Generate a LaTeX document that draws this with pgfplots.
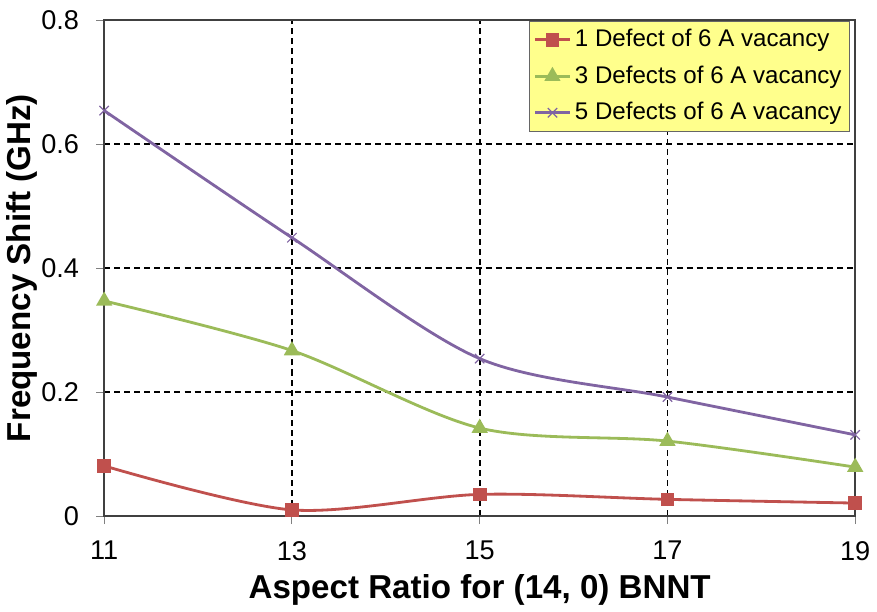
\documentclass[border=0pt]{standalone}
\usepackage{pgfplots}
\pgfplotsset{compat=1.18}
\usepackage{fontspec}
\setmainfont{Liberation Sans}
\definecolor{cred}{HTML}{C0504D}
\definecolor{cgreen}{HTML}{9BBB59}
\definecolor{cpurple}{HTML}{8064A2}
\definecolor{legyellow}{HTML}{FFFF8C}
\begin{document}
\begin{tikzpicture}
\begin{axis}[
  scale only axis,
  width=374pt, height=247pt,
  xmin=11, xmax=19, ymin=0, ymax=0.8,
  xtick={11,13,15,17,19},
  ytick={0,0.2,0.4,0.6,0.8},
  yticklabels={0,0.2,0.4,0.6,0.8},
  grid=major,
  major grid style={black, line width=0.9pt, dash pattern=on 3pt off 2pt},
  axis line style={draw=black!75, line width=0.9pt},
  tick style={draw=black!50, line width=0.5pt},
  tick align=outside,
  major tick length=4pt,
  xtick pos=bottom, ytick pos=left,
  tick label style={font=\fontsize{13.5}{15}\selectfont},
  xticklabel style={yshift=-5pt},
  yticklabel style={xshift=-5pt},
  /pgf/number format/assume math mode=true,
  xlabel={\textbf{Aspect Ratio for (14, 0) BNNT}},
  ylabel={\textbf{Frequency Shift (GHz)}},
  label style={font=\fontsize{16.5}{18}\selectfont},
  xlabel style={yshift=0pt},
  ylabel style={yshift=-5pt},
  legend style={at={(0.993,0.998)}, anchor=north east, fill=legyellow, draw=black!60,
     font=\fontsize{12}{14}\selectfont, row sep=4pt, inner sep=2pt},
  legend cell align=left,
  legend image post style={line width=1.4pt},
]
\addplot[cred, line width=1.4pt, smooth, mark=square*, mark size=2.7pt, mark options={solid}]
  coordinates {(11,0.081) (13,0.010) (15,0.035) (17,0.027) (19,0.021)};
\addlegendentry{1 Defect of 6 A vacancy}
\addplot[cgreen, line width=1.4pt, smooth, mark=triangle*, mark size=3.3pt]
  coordinates {(11,0.347) (13,0.267) (15,0.142) (17,0.121) (19,0.079)};
\addlegendentry{3 Defects of 6 A vacancy}
\addplot[cpurple, line width=1.4pt, smooth, mark=x, mark size=3.3pt, mark options={line width=0.6pt}]
  coordinates {(11,0.654) (13,0.449) (15,0.254) (17,0.192) (19,0.131)};
\addlegendentry{5 Defects of 6 A vacancy}
\end{axis}
\path ([yshift=10pt]current axis.north);
\end{tikzpicture}
\end{document}
